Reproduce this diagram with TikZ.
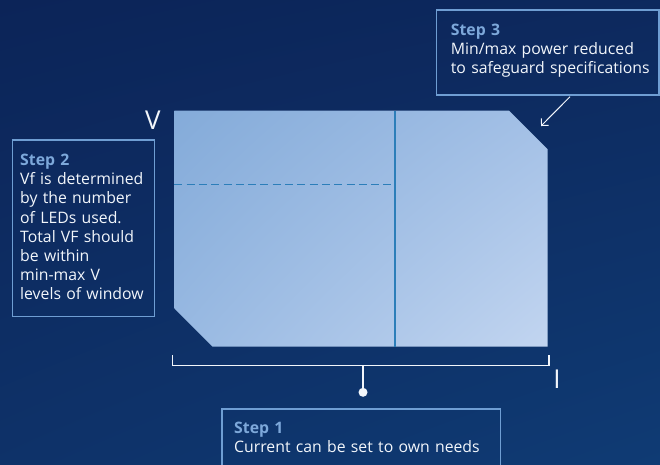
\documentclass[tikz,border=0pt]{standalone}
\usepackage{fontspec}
\setmainfont{Open Sans}
\usetikzlibrary{arrows.meta,shadings}
\definecolor{bgtop}{HTML}{0C2458}
\definecolor{bgbot}{HTML}{0F3B74}
\definecolor{boxline}{HTML}{6F9ED3}
\definecolor{steplbl}{HTML}{7DA8DA}
\definecolor{txt}{HTML}{F2F6FB}
\definecolor{winUL}{HTML}{84ABD9}
\definecolor{winUR}{HTML}{A3C0E6}
\definecolor{winLL}{HTML}{98B9E2}
\definecolor{winLR}{HTML}{C2D5F0}
\definecolor{divline}{HTML}{2C7EB9}
\tikzset{
  stepbox/.style={draw=boxline, line width=1.3pt},
  steptext/.style={anchor=base west, inner sep=0pt, align=left, text=txt,
    font=\fontsize{15.8}{19.1}\selectfont},
  axislbl/.style={text=txt, inner sep=0pt, font=\fontsize{26}{26}\selectfont},
  wire/.style={draw=txt, line width=1.1pt},
}
\newcommand{\steplabel}[1]{{\color{steplbl}\bfseries #1}}
\begin{document}
\begin{tikzpicture}[x=1pt,y=-1pt]
\useasboundingbox (0,0) rectangle (660,464);
\clip (0,0) rectangle (660,464);
% background
\shade[upper left=bgtop, upper right=bgtop!80!bgbot, lower left=bgtop!40!bgbot, lower right=bgbot] (0,0) rectangle (660,464);
% window shape
\shade[upper left=winUL, upper right=winUR, lower left=winLL, lower right=winLR]
  (174.3,110.7) -- (509,110.7) -- (547.7,149.3) -- (547.7,346.7) -- (212.7,346.7) -- (174.3,308.3) -- cycle;
\coordinate (vtop) at (395.3,110.7);
\coordinate (vbot) at (395.3,346.7);
\coordinate (dl) at (174.3,184.3);
\coordinate (dr) at (395.3,184.3);
\draw[divline, line width=1.7pt] (vtop) -- (vbot);
\draw[divline, line width=1.5pt, dash pattern=on 8pt off 4.3pt] (dl) -- (dr);
% axis labels
\node[axislbl, anchor=base] (V) at (152.8,129.3) {V};
\node[axislbl, anchor=base] (I) at (557,388) {I};
% bracket
\coordinate (bl) at (172.7,355);
\coordinate (br) at (549,355);
\coordinate (bm) at (363,365.3);
\node[circle, fill=txt, inner sep=0pt, minimum size=9pt] (dot) at (363,392.3) {};
\draw[wire] (bl) -- (172.7,365.3) -- (549,365.3) -- (br);
\draw[wire] (bm) -- (dot.center);
% Step 3
\node[stepbox, anchor=north west, minimum width=222.3pt, minimum height=85pt, inner sep=0pt] (s3box) at (436,9.3) {};
\node[steptext, text width=205pt] (s3) at (450.7,35) {\steplabel{Step 3}\\Min/max power reduced\\to safeguard specifications};
\coordinate (a3s) at (570,96.7);
\coordinate (a3e) at (541,126);
\draw[wire, line width=1pt, -{Straight Barb[length=5pt,width=10pt]}] (a3s) -- (a3e);
% Step 2
\node[stepbox, anchor=north west, minimum width=142.3pt, minimum height=176.4pt, inner sep=0pt] (s2box) at (11.7,139.3) {};
\node[steptext, text width=130pt] (s2) at (20,165.7) {\steplabel{Step 2}\\Vf is determined\\by the number\\of LEDs used.\\Total VF should\\be within\\min-max V\\levels of window};
% Step 1
\node[stepbox, anchor=north west, minimum width=278.7pt, minimum height=80pt, inner sep=0pt] (s1box) at (221.3,408.3) {};
\node[steptext, text width=260pt] (s1) at (234,433) {\steplabel{Step 1}\\Current can be set to own needs};
\end{tikzpicture}
\end{document}
